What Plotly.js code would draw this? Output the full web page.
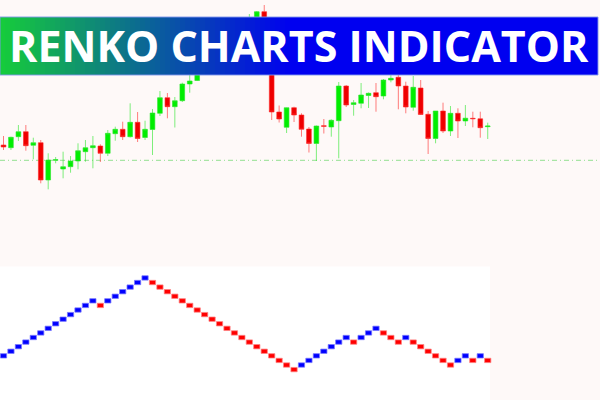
<!DOCTYPE html>
<html><head><meta charset="utf-8">
<script src="https://cdn.plot.ly/plotly-3.0.1.min.js"></script>
<style>html,body{margin:0;padding:0;background:#fef9f8;}#chart{width:600px;height:400px;}</style>
</head><body><div id="chart"></div>
<script>
const titleText = 'RENKO CHARTS INDICATOR';

// Candlestick prices (arbitrary price units)
const opens = [55,52.3,63.3,68.3,54.7,57.3,20,39.7,31,33.3,
  39,48.3,52.3,54,46.7,66.3,70.7,63.3,77.7,62.5,
  70.5,86.7,102.3,93.3,99.3,116,119.5,128,140,134,
  152,162,155,172,178,188.3,180,88,72.7,92.3,
  85,71,56.5,74.3,73,79.3,114,95.5,96.7,104.5,
  107.3,104,120,122.7,114,92.7,112,85.7,61.5,89,
  69,86.7,79,81.7,81.2,73.3];
const highs = [64,63.3,75,75,62.3,60,46.7,43,48.3,44,
  56.7,60,64,55.7,70,73.3,78.3,96.7,88,79.3,
  91,109,107,103,117.3,125,137,145,146,156,
  168,167,176,186,189,195,182,94.5,92.5,93.3,
  86.7,73,74.5,81,80.7,118,115,100,117,107.5,
  117,121,125,125,118.3,124,120,89,89,97.3,
  94,91.7,95,88.3,88.3,77.3];
const lows = [50,50,59,49.3,40.7,16.7,10.7,36.7,21.7,27.3,
  30.7,38.3,31.7,38,44,59.3,60,62.5,58,60,
  45,84,81.7,72.5,98,107.3,119,125,130,131,
  148,150,152,168,175,178,80,77.5,67,78,
  63.3,47.5,39,66.5,63.3,41.7,93,84.3,91.7,92,
  88.3,100.7,117.7,90.7,86.7,89.3,85,46,56.7,67,
  64,62,74,72.7,62.3,61];
const closes = [53,62.7,68.3,54.3,57.3,20,40,40.3,33.3,39,
  49.3,52.3,54.3,46.7,66.7,70.7,63.3,77.7,61.5,70.7,
  87,102.3,93.3,99.3,116,119,130,140,134,152,
  162,155,172,182,188.3,180,88,81,92.3,85,
  70.7,56.5,74,73.7,79.7,114,95,97.3,105,106.7,
  103.3,120,121.7,114,93,112.7,85.5,61.5,89,69,
  86.7,79,81.8,81.3,72.3,74];
const signalLevel = 39.7;

// Renko bricks (level in brick units) and direction
const renkoLevels = [0,1,2,3,4,5,6,7,8,9,10,11,12,11,12,13,14,15,16,17,
  16,15,14,13,12,11,10,9,8,7,6,5,4,3,2,1,0,-1,-2,-3,
  -2,-1,0,1,2,3,4,3,4,5,6,5,4,3,4,3,2,1,0,-1,-2,-1,0,-1,0,-1];
const renkoDirections = ['U','U','U','U','U','U','U','U','U','U','U','U','U','D',
  'U','U','U','U','U','U',
  'D','D','D','D','D','D','D','D','D','D','D','D','D','D','D','D','D','D','D','D',
  'U','U','U','U','U','U','U','D','U','U','U','D','D','D','U',
  'D','D','D','D','D','D','U','U','D','U','D'];

const W = 600, H = 400;
const px = x => x / W, py = y => 1 - y / H;
const idx = opens.map((_, i) => i);

const candles = {
  type: 'candlestick', x: idx, open: opens, high: highs, low: lows, close: closes,
  xaxis: 'x', yaxis: 'y',
  increasing: {line: {color: 'rgba(40,230,40,0.6)', width: 1}, fillcolor: '#00ee00'},
  decreasing: {line: {color: 'rgba(255,40,40,0.6)', width: 1}, fillcolor: '#ee0000'},
  hoverinfo: 'skip'
};
const renko = {
  type: 'bar', x: idx, base: renkoLevels.map(v => v - 0.05), y: renkoLevels.map(() => 0.95),
  xaxis: 'x', yaxis: 'y2', width: 0.84,
  marker: {
    color: renkoDirections.map(d => d === 'U' ? '#0000ff' : '#ff0000'),
    line: {color: renkoDirections.map(d => d === 'U' ? 'rgba(120,120,255,0.75)' : 'rgba(255,130,130,0.75)'), width: 1}
  },
  hoverinfo: 'skip'
};

const shapes = [];
shapes.push({type: 'rect', xref: 'paper', yref: 'paper', x0: 0, x1: px(490), y0: 0, y1: py(266.5),
  fillcolor: '#ffffff', line: {width: 0}, layer: 'below'});
shapes.push({type: 'line', xref: 'paper', yref: 'y', x0: 0, x1: 1, y0: signalLevel, y1: signalLevel,
  line: {color: 'rgba(110,215,110,0.75)', width: 1, dash: '5px,3px,1px,3px'}, layer: 'below'});
const gEnd = 290, step = 5;
const c0 = [22, 205, 58], c1 = [0, 0, 240];
for (let x = 0; x < gEnd; x += step) {
  const t = (x + step / 2) / gEnd;
  const c = c0.map((v, k) => Math.round(v + (c1[k] - v) * t));
  shapes.push({type: 'rect', xref: 'paper', yref: 'paper', x0: px(x), x1: px(x + step + 1), y0: py(75), y1: py(17),
    fillcolor: `rgb(${c[0]},${c[1]},${c[2]})`, line: {width: 0}});
}
shapes.push({type: 'rect', xref: 'paper', yref: 'paper', x0: px(gEnd), x1: px(598), y0: py(75), y1: py(17),
  fillcolor: 'rgb(0,0,240)', line: {width: 0}});
shapes.push({type: 'rect', xref: 'paper', yref: 'paper', x0: px(0), x1: px(598), y0: py(75), y1: py(17),
  fillcolor: 'rgba(0,0,0,0)', line: {color: 'rgba(130,150,235,0.9)', width: 1}});

const hidden = {visible: false, showgrid: false, zeroline: false, fixedrange: true};
const layout = {
  width: W, height: H, margin: {l: 0, r: 0, t: 0, b: 0, pad: 0},
  paper_bgcolor: '#fef9f8', plot_bgcolor: 'rgba(0,0,0,0)', showlegend: false,
  boxgap: 0.1, boxgroupgap: 0.3, bargap: 0,
  xaxis: Object.assign({range: [-0.47, 80.07], rangeslider: {visible: false}}, hidden),
  yaxis: Object.assign({range: [-200, 200], domain: [0, 1]}, hidden),
  yaxis2: Object.assign({range: [-9.21, 78.07], overlaying: 'y'}, hidden),
  shapes: shapes,
  annotations: [{
    text: titleText, xref: 'paper', yref: 'paper', x: px(299), y: py(45),
    xanchor: 'center', yanchor: 'middle', showarrow: false,
    font: {family: 'Open Sans', size: 43, color: '#ffffff', weight: 700}
  }]
};
Plotly.newPlot('chart', [renko, candles], layout, {staticPlot: true, displayModeBar: false});
</script>
</body></html>
